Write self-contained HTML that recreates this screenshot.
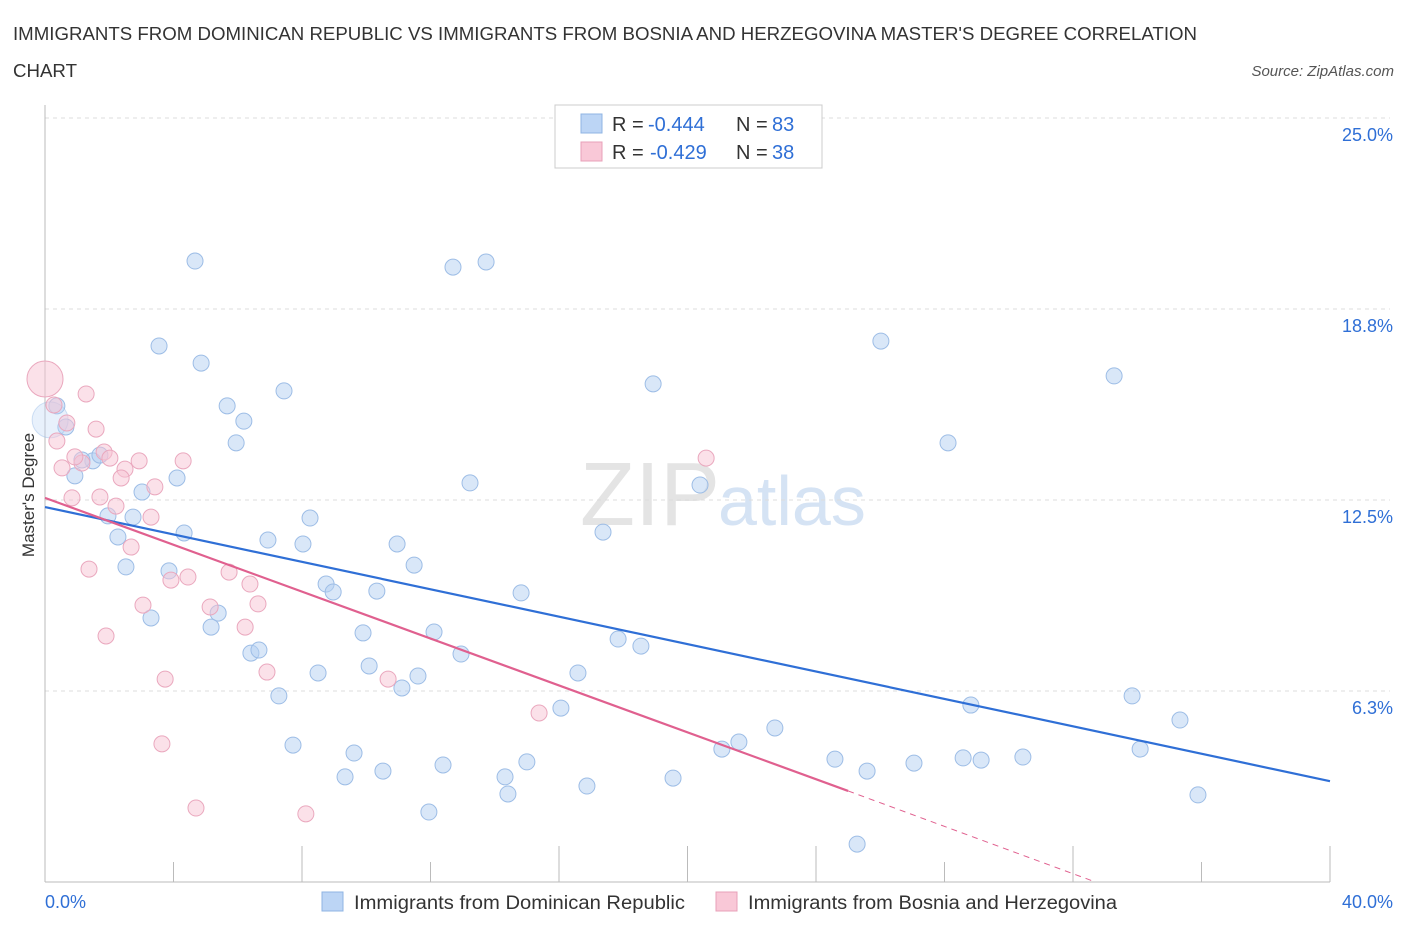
<!DOCTYPE html>
<html><head><meta charset="utf-8"><style>
body{margin:0;background:#fff;font-family:"Liberation Sans",sans-serif;}
svg text{font-family:"Liberation Sans",sans-serif;}
</style></head><body>
<svg id="chart" width="1406" height="930" viewBox="0 0 1406 930" xmlns="http://www.w3.org/2000/svg">
<text x="13" y="40" font-size="18" fill="#333" textLength="1184" lengthAdjust="spacingAndGlyphs">IMMIGRANTS FROM DOMINICAN REPUBLIC VS IMMIGRANTS FROM BOSNIA AND HERZEGOVINA MASTER'S DEGREE CORRELATION</text>
<text x="13" y="77" font-size="18" fill="#333" textLength="64" lengthAdjust="spacingAndGlyphs">CHART</text>
<text x="1394" y="76" font-size="15" fill="#555" text-anchor="end" font-style="italic">Source: ZipAtlas.com</text>
<text x="720" y="525" font-size="90" fill="#e4e4e4" text-anchor="end" font-family="Liberation Serif">ZIP</text>
<text x="718" y="525" font-size="70" fill="#d5e3f4">atlas</text>
<g id="grid"></g>
<g id="axes"></g>
<g id="pts"></g>
<g id="lines"></g>
<text transform="translate(34,495) rotate(-90)" font-size="17" fill="#333" text-anchor="middle">Master's Degree</text>
<g>
<rect x="555" y="105" width="267" height="63" fill="#fff" stroke="#ccc"/>
<rect x="581" y="114" width="21" height="19" fill="#bcd5f5" stroke="#8fb4e3"/>
<rect x="581" y="142" width="21" height="19" fill="#f9c8d7" stroke="#e8a0b8"/>
<text x="612" y="131" font-size="20" fill="#333">R =</text>
<text x="648" y="131" font-size="20" fill="#2f6fd6">-0.444</text>
<text x="736" y="131" font-size="20" fill="#333">N =</text>
<text x="772" y="131" font-size="20" fill="#2f6fd6">83</text>
<text x="612" y="159" font-size="20" fill="#333">R =</text>
<text x="650" y="159" font-size="20" fill="#2f6fd6">-0.429</text>
<text x="736" y="159" font-size="20" fill="#333">N =</text>
<text x="772" y="159" font-size="20" fill="#2f6fd6">38</text>
</g>
<g>
<rect x="322" y="892" width="21" height="19" fill="#bcd5f5" stroke="#8fb4e3"/>
<text x="354" y="909" font-size="19" fill="#333" textLength="331" lengthAdjust="spacingAndGlyphs">Immigrants from Dominican Republic</text>
<rect x="716" y="892" width="21" height="19" fill="#f9c8d7" stroke="#e8a0b8"/>
<text x="748" y="909" font-size="19" fill="#333" textLength="369" lengthAdjust="spacingAndGlyphs">Immigrants from Bosnia and Herzegovina</text>
</g>
</svg>
<script>
const blueX=[4.67,12.70,13.73,3.55,4.86,26.02,33.28,18.93,0.37,5.67,7.44,6.19,0.65,5.95,28.11,1.49,1.15,1.71,0.93,4.11,3.02,13.23,20.39,1.96,2.74,8.25,2.27,4.33,6.94,8.03,10.96,17.37,2.52,3.86,11.49,8.75,8.97,10.33,14.82,3.30,5.39,5.17,9.90,12.11,17.84,18.55,6.41,6.66,12.95,10.09,8.50,11.61,16.59,11.11,7.28,33.84,16.06,28.82,35.33,7.72,9.62,21.60,21.07,22.72,34.09,9.34,10.52,12.39,15.00,14.32,14.41,16.87,19.55,24.59,25.59,27.05,28.58,29.14,30.44,11.95,35.89,25.28,0.16];
const blueY=[20.32,20.12,20.29,17.54,16.98,17.70,16.56,16.30,15.58,15.58,16.07,15.08,14.89,14.37,14.37,13.78,13.81,13.97,13.29,13.22,12.76,13.06,12.99,11.98,11.94,11.91,11.29,11.42,11.19,11.06,11.06,11.45,10.31,10.18,10.37,9.75,9.49,9.52,9.46,8.64,8.80,8.34,8.15,8.18,7.95,7.72,7.49,7.59,7.46,7.07,6.84,6.74,6.84,6.35,6.09,6.09,5.69,5.79,5.30,4.48,4.22,4.58,4.35,5.04,4.35,3.44,3.63,3.83,3.93,3.44,2.88,3.14,3.40,4.02,3.63,3.89,4.06,3.99,4.09,2.29,2.85,1.24,15.12];
const pinkX=[0,0.28,1.28,0.37,0.68,1.59,1.84,1.15,0.53,0.93,2.02,2.49,2.37,2.93,4.30,3.42,0.84,1.71,2.21,3.30,2.68,1.37,3.92,4.45,5.73,6.38,3.05,5.14,6.63,6.23,1.90,6.91,3.74,10.68,20.58,15.38,3.64,4.70,8.12];
const pinkY=[16.46,15.61,15.97,14.43,15.02,14.82,14.07,13.71,13.55,13.91,13.87,13.51,13.22,13.78,13.78,12.93,12.57,12.60,12.30,11.94,10.96,10.24,9.88,9.98,10.14,9.75,9.06,9.00,9.10,8.34,8.05,6.87,6.64,6.64,13.87,5.53,4.52,2.42,2.23];
const yTicks=[6.25,12.5,18.75,25];
const yTickLabels=["6.3%","12.5%","18.8%","25.0%"];
const blueTrend=[[0,12.27],[40,3.3]];
const pinkTrend=[[0,12.57],[25,2.98]];
const pinkDash=[[25,2.98],[32.7,0]];
const X=v=>45+v*32.125, Y=v=>882-v*30.56;
const NS="http://www.w3.org/2000/svg";
function mk(t,a,p){const e=document.createElementNS(NS,t);for(const k in a)e.setAttribute(k,a[k]);p.appendChild(e);return e;}
const grid=document.getElementById('grid'),axes=document.getElementById('axes'),pts=document.getElementById('pts'),lines=document.getElementById('lines');
yTicks.forEach((t,i)=>{
 const l=mk('line',{x1:45,x2:1390,y1:Y(t),y2:Y(t),stroke:'#ddd','stroke-dasharray':'4,4'},grid);
 
 
 const tx=mk('text',{x:1393,y:Y(t)+23,'font-size':18,fill:'#2f6fd6','text-anchor':'end'},axes);
 tx.textContent=yTickLabels[i];
 
 
});
const ya=mk('line',{x1:45,x2:45,y1:105,y2:882,stroke:'#bbb'},axes);


const xa=mk('line',{x1:45,x2:1330,y1:882,y2:882,stroke:'#bbb'},axes);


const tallTicks=[2,4,5,6,8,10];
for(let i=0;i<=10;i++){
 const tall=tallTicks.includes(i);
 const tk=mk('line',{x1:X(i*4),x2:X(i*4),y1:tall?846:862,y2:882,stroke:'#bbb'},axes);
 
 
}
[["0.0%",45,"start"],["40.0%",1393,"end"]].forEach(a=>{
 const t=mk('text',{x:a[1],y:908,'font-size':18,fill:'#2f6fd6','text-anchor':a[2]},axes);t.textContent=a[0];
 
 
});
function dots(xs,ys,fill,stroke,name){xs.forEach((x,i)=>{
 const bigP=(name==='pink-point'&&i===0), bigB=(name==='blue-point'&&i===xs.length-1);
 const c=mk('circle',{cx:X(x),cy:Y(ys[i]),r:(bigP||bigB)?18:8,fill:bigB?'rgba(190,215,245,0.35)':fill,stroke:bigB?'rgba(143,180,227,0.4)':stroke,'stroke-width':1},pts);
 
 
});}
dots(blueX,blueY,'rgba(180,208,242,0.5)','#9dbde6','blue-point');
dots(pinkX,pinkY,'rgba(248,196,212,0.5)','#eaa8be','pink-point');
function ln(p,col,name,dash){const l=mk('line',{x1:X(p[0][0]),y1:Y(p[0][1]),x2:X(p[1][0]),y2:Y(p[1][1]),stroke:col,'stroke-width':dash?1:2.2},lines);
 if(dash)l.setAttribute('stroke-dasharray','6,5');
 
 }
ln(blueTrend,'#2f6fd6','blue-trend-line');
ln(pinkTrend,'#e0608f','pink-trend-line');
ln(pinkDash,'#e0608f','pink-trend-extension',true);
</script>
</body></html>
